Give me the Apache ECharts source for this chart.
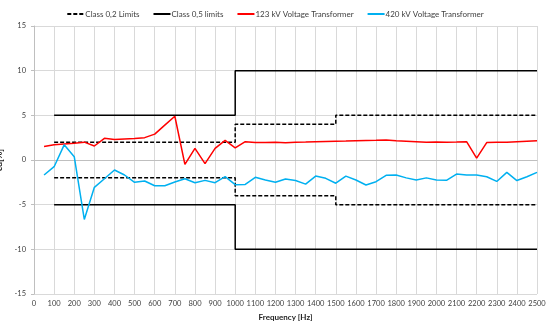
<!DOCTYPE html>
<html><head><meta charset="utf-8">
<script src="https://cdn.jsdelivr.net/npm/echarts@6/dist/echarts.min.js"></script>
<style>html,body{margin:0;padding:0;background:#fff}#c{width:550px;height:325px}</style>
</head><body><div id="c"></div>
<script>
const freqs = [50,100,150,200,250,300,350,400,450,500,550,600,650,700,750,800,850,900,950,1000,
  1050,1100,1150,1200,1250,1300,1350,1400,1450,1500,1550,1600,1650,1700,1750,1800,1850,1900,1950,2000,
  2050,2100,2150,2200,2250,2300,2350,2400,2450,2500];
const kv123 = [1.5,1.7,1.8,1.87,2.0,1.57,2.43,2.3,2.35,2.4,2.5,2.9,3.9,4.9,-0.5,1.3,-0.4,1.3,2.2,1.35,
  2.05,1.95,1.95,1.98,1.92,2.0,2.02,2.05,2.08,2.1,2.12,2.15,2.18,2.2,2.25,2.15,2.1,2.05,2.0,2.02,
  2.0,2.02,2.05,0.2,1.95,2.0,2.0,2.05,2.1,2.15];
const kv420 = [-1.68,-0.75,1.7,0.37,-6.65,-3.06,-2.1,-1.12,-1.68,-2.5,-2.35,-2.88,-2.88,-2.47,-2.1,-2.54,-2.28,-2.54,-1.87,-2.76,
  -2.73,-1.94,-2.24,-2.5,-2.13,-2.3,-2.7,-1.8,-2.05,-2.6,-1.8,-2.24,-2.8,-2.43,-1.72,-1.68,-2.0,-2.24,-2.0,-2.24,
  -2.28,-1.57,-1.68,-1.68,-1.87,-2.4,-1.38,-2.3,-1.87,-1.38];
const class02Freq = [100,1000,1000,1500,1500,2500];
const class02Upper = [2,2,4,4,5,5];
const class02Lower = [-2,-2,-4,-4,-5,-5];
const class05Freq = [100,1000,1000,2500];
const class05Upper = [5,5,10,10];
const class05Lower = [-5,-5,-10,-10];
const xTicks = {min:0, max:2500, interval:100};
const yTicks = {min:-15, max:15, interval:5};

const zip = (a,b) => a.map((v,i)=>[v,b[i]]);
const font = 'Lato';
const chart = echarts.init(document.getElementById('c'));
const base = {type:'line', symbol:'none', animation:false};
chart.setOption({
  animation:false,
  textStyle:{fontFamily:font},
  legend:{top:5, left:'center', itemWidth:17, itemHeight:8, itemGap:13,
    itemStyle:{opacity:0},
    textStyle:{fontSize:8, color:'#404040', fontFamily:font, padding:[0,0,0,-4]},
    data:['Class 0,2 Limits','Class 0,5 limits','123 kV Voltage Transformer','420 kV Voltage Transformer']},
  grid:{left:34, right:13, top:26, bottom:31, outerBoundsMode:'none', containLabel:false},
  xAxis:{type:'value', min:xTicks.min, max:xTicks.max, interval:xTicks.interval,
    name:'Frequency [Hz]', nameLocation:'middle', nameGap:19,
    nameTextStyle:{fontWeight:'bold', fontSize:8, color:'#222'},
    axisLine:{lineStyle:{color:'#bfbfbf'}}, axisTick:{show:false},
    axisLabel:{fontSize:7.5, color:'#404040', margin:6, showMaxLabel:true, showMinLabel:true,
      hideOverlap:false, interval:0, formatter:v=>String(v)},
    splitLine:{show:true, lineStyle:{color:'#d9d9d9'}}},
  yAxis:{type:'value', min:yTicks.min, max:yTicks.max, interval:yTicks.interval,
    name:'εu[%]', nameLocation:'middle', nameGap:21, nameRotate:90,
    nameTextStyle:{fontWeight:'bold', fontSize:9, color:'#222'},
    axisLine:{show:true, lineStyle:{color:'#bfbfbf'}}, axisTick:{show:true, length:3, lineStyle:{color:'#bfbfbf'}},
    axisLabel:{fontSize:7.5, color:'#404040', margin:8, formatter:v=>String(v)},
    splitLine:{show:true, lineStyle:{color:'#d9d9d9'}}},
  series:[
    Object.assign({}, base, {name:'Class 0,2 Limits', data:zip(class02Freq,class02Upper), lineStyle:{color:'#000', width:1.5, type:[4,2]}, itemStyle:{color:'#000'}}),
    Object.assign({}, base, {name:'Class 0,2 Limits', data:zip(class02Freq,class02Lower), lineStyle:{color:'#000', width:1.5, type:[4,2]}, itemStyle:{color:'#000'}}),
    Object.assign({}, base, {name:'Class 0,5 limits', data:zip(class05Freq,class05Upper), lineStyle:{color:'#000', width:1.5}, itemStyle:{color:'#000'}}),
    Object.assign({}, base, {name:'Class 0,5 limits', data:zip(class05Freq,class05Lower), lineStyle:{color:'#000', width:1.5}, itemStyle:{color:'#000'}}),
    Object.assign({}, base, {name:'123 kV Voltage Transformer', data:zip(freqs,kv123), lineStyle:{color:'#ff0000', width:1.5}, itemStyle:{color:'#ff0000'}}),
    Object.assign({}, base, {name:'420 kV Voltage Transformer', data:zip(freqs,kv420), lineStyle:{color:'#00b0f0', width:1.5}, itemStyle:{color:'#00b0f0'}})
  ]
});
</script></body></html>
